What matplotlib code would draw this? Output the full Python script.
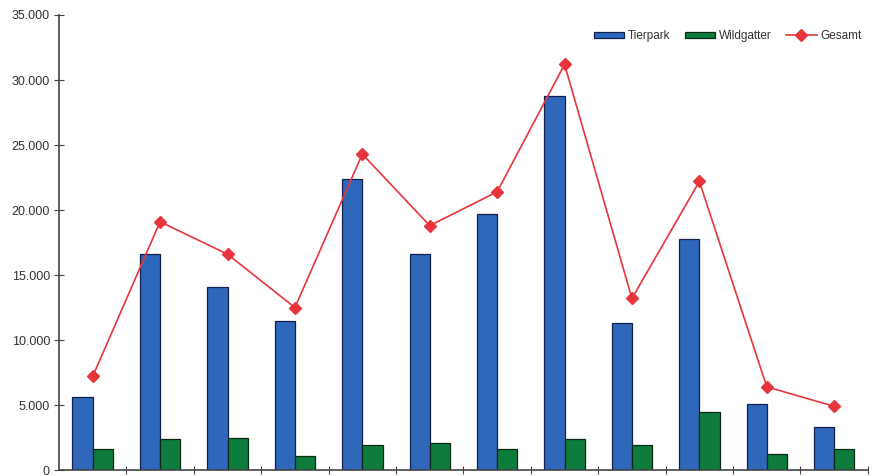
import numpy as np
import matplotlib
matplotlib.use("Agg")
import matplotlib.pyplot as plt
from matplotlib.ticker import FuncFormatter

plt.rcParams["font.family"] = ["Liberation Sans", "DejaVu Sans"]

# values
tierpark = [5600, 16600, 14100, 11500, 22400, 16600, 19700, 28800, 11300, 17800, 5100, 3300]
wildgatter = [1600, 2400, 2500, 1100, 1900, 2100, 1600, 2400, 1900, 4500, 1200, 1600]
gesamt = [7200, 19100, 16600, 12500, 24300, 18800, 21400, 31200, 13200, 22200, 6400, 4900]
labels = ["Tierpark", "Wildgatter", "Gesamt"]

x = np.arange(len(tierpark))
w = 0.3

fig = plt.figure(figsize=(8.74, 4.76), dpi=100)
ax = fig.add_axes([0.0675, 0.0125, 0.9255, 0.956])

b1 = ax.bar(x - w/2, tierpark, w, color="#2f67bb", edgecolor="#10204a", linewidth=0.9, label=labels[0], zorder=2)
b2 = ax.bar(x + w/2, wildgatter, w, color="#0d7c3c", edgecolor="#0a2a15", linewidth=0.9, label=labels[1], zorder=2)
l1, = ax.plot(x, gesamt, color="#e8353b", linewidth=1.2, marker="D", markersize=6.5, label=labels[2], zorder=3)

ax.set_xlim(-0.5, len(tierpark) - 0.5)
ax.set_ylim(0, 35000)
ax.set_yticks(np.arange(0, 35001, 5000))
ax.yaxis.set_major_formatter(FuncFormatter(lambda v, p: f"{int(v):,}".replace(",", ".")))
ax.set_xticks(np.arange(0.5, len(tierpark), 1.0))
ax.set_xticklabels([])

for s in ["top", "right"]:
    ax.spines[s].set_visible(False)
for s in ["left", "bottom"]:
    ax.spines[s].set_color("#444444")
    ax.spines[s].set_linewidth(1.2)
ax.tick_params(axis="y", direction="inout", length=7, color="#444444", labelsize=9, labelcolor="#333333", pad=3)
ax.tick_params(axis="x", direction="inout", length=6, color="#444444")

ax.legend([b1, b2, l1], labels, loc="upper right", ncol=3, frameon=False, fontsize=8.5, handlelength=2.6,
          handleheight=0.45, columnspacing=1.2, handletextpad=0.3, bbox_to_anchor=(1.005, 0.99),
          labelcolor="#333333")

fig.savefig("out.png", dpi=100)
